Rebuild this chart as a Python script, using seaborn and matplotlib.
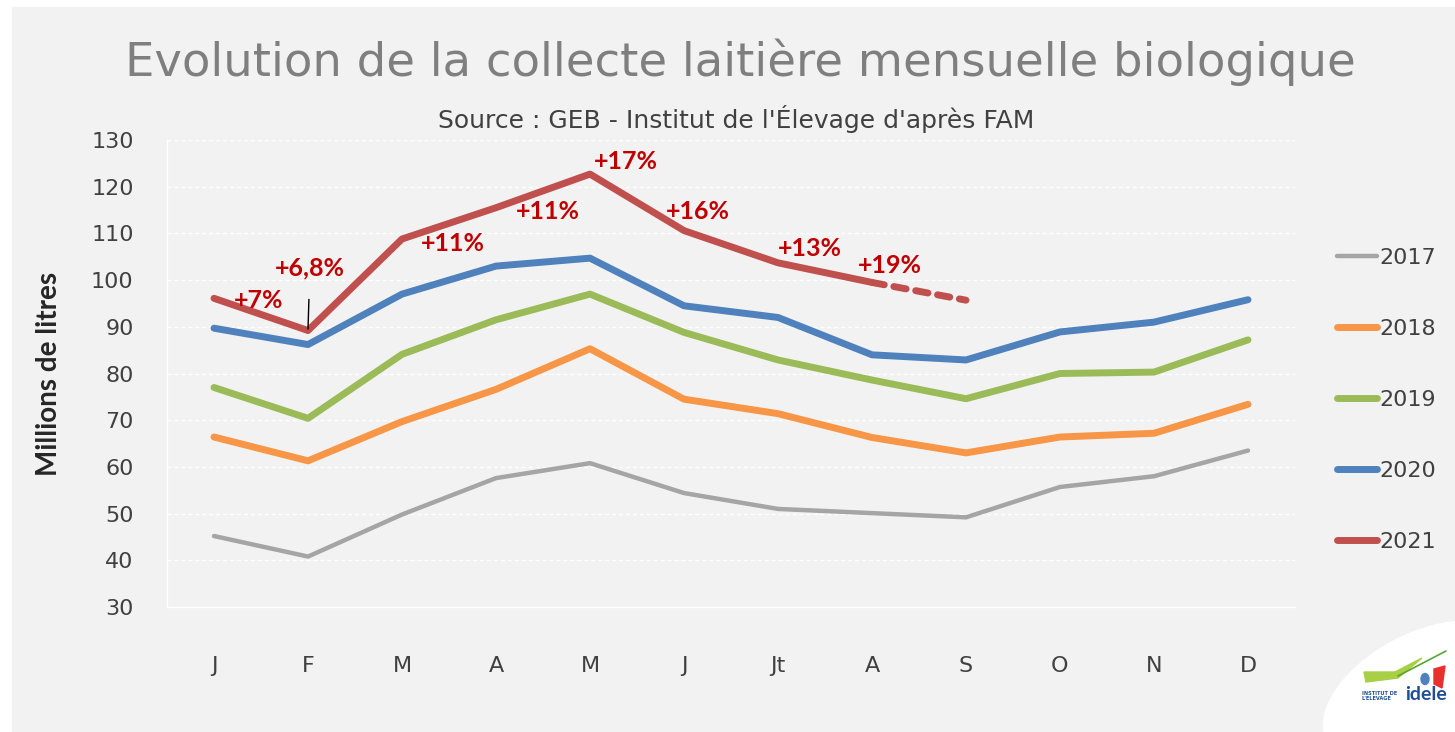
import numpy as np
import pandas as pd
import matplotlib
matplotlib.use("Agg")
import matplotlib.pyplot as plt
from matplotlib.patches import Ellipse, Rectangle, Polygon
from matplotlib.lines import Line2D
from matplotlib.transforms import IdentityTransform
import seaborn as sns

sns.set_style("white")
plt.rcParams["font.family"] = ["DejaVu Sans"]

# ---------------------------------------------------
# Data (millions de litres)
# ---------------------------------------------------
months = ["J", "F", "M", "A", "M", "J", "Jt", "A", "S", "O", "N", "D"]
years = ["2017", "2018", "2019", "2020", "2021"]

v2017 = [45.2, 40.8, 49.8, 57.6, 60.8, 54.4, 51.0, 50.1, 49.2, 55.7, 58.0, 63.5]
v2018 = [66.4, 61.3, 69.7, 76.6, 85.3, 74.5, 71.4, 66.3, 63.0, 66.4, 67.2, 73.4]
v2019 = [77.0, 70.4, 84.1, 91.5, 97.0, 88.8, 82.9, 78.6, 74.6, 80.0, 80.3, 87.2]
v2020 = [89.7, 86.2, 97.0, 103.0, 104.7, 94.5, 92.0, 84.0, 82.9, 88.9, 91.0, 95.8]
v2021 = [96.1, 89.2, 108.8, 115.5, 122.7, 110.6, 103.7, 99.5, 95.7]
n_final_2021 = 8  # Jan-Aug definitive, Sept estimated (dashed)

# year-on-year growth labels for 2021
growth_labels = ["+7%", "+6,8%", "+11%", "+11%", "+17%", "+16%", "+13%", "+19%"]
label_pos = [(0.47, 95.7), (1.02, 102.6), (2.54, 107.9), (3.55, 114.6),
             (4.38, 125.3), (5.15, 114.6), (6.34, 106.7), (7.19, 103.2)]

colors = {"2017": "#a5a5a5", "2018": "#f79646", "2019": "#9bbb59",
          "2020": "#4f81bd", "2021": "#c0504d"}
widths = {"2017": 3.2, "2018": 5, "2019": 5, "2020": 5, "2021": 5}

series = {"2017": v2017, "2018": v2018, "2019": v2019, "2020": v2020}

# ---------------------------------------------------
# Figure
# ---------------------------------------------------
W, H = 1455, 732
fig = plt.figure(figsize=(W / 100, H / 100), dpi=100, facecolor="white")
bg = "#f2f2f2"
fig.patches.append(Rectangle((12 / W, 0), 1, 1 - 7 / H, transform=fig.transFigure,
                             color=bg, zorder=-10))
# white leaf behind the logo (pixel coords)
px = IdentityTransform()
fig.patches.append(Ellipse((1420, 40), 210, 115, angle=28, transform=px,
                           color="white", zorder=-5))

ax = fig.add_axes([167 / W, (H - 607) / H, 1128 / W, 467 / H])
ax.set_facecolor(bg)

x = np.arange(len(months))
for yr, vals in series.items():
    sns.lineplot(x=x, y=vals, ax=ax, color=colors[yr], lw=widths[yr],
                 solid_capstyle="round", solid_joinstyle="round", label=yr)

x21 = x[:len(v2021)]
sns.lineplot(x=x21[:n_final_2021], y=v2021[:n_final_2021], ax=ax, color=colors["2021"],
             lw=widths["2021"], solid_capstyle="round", solid_joinstyle="round", label="2021")
ax.plot(x21[n_final_2021 - 1:], v2021[n_final_2021 - 1:], color=colors["2021"],
        lw=widths["2021"], ls=(0, (1.8, 1.4)), dash_capstyle="round")

for i, (txt, pos) in enumerate(zip(growth_labels, label_pos)):
    if txt == "+6,8%":
        ax.annotate(txt, xy=(x[i], v2021[i] + 0.3), xytext=pos, ha="center", va="center",
                    fontsize=18, fontweight="bold", color="#c00000", family="Lato",
                    arrowprops=dict(arrowstyle="-", color="black", lw=1,
                                    shrinkA=12, shrinkB=0))
    else:
        ax.text(pos[0], pos[1], txt, ha="center", va="center", fontsize=18,
                fontweight="bold", color="#c00000", family="Lato")

# axes styling
ax.set_xlim(-0.5, 11.5)
ax.set_ylim(30, 130)
ax.set_yticks(range(30, 131, 10))
ax.set_xticks(x)
ax.set_xticklabels(months)
ax.set_xticks(np.arange(-0.5, 12, 1), minor=True)
ax.tick_params(axis="x", which="major", length=0, pad=35, labelsize=16, labelcolor="#404040")
ax.tick_params(axis="x", which="minor", length=6, color="white", width=1)
ax.tick_params(axis="y", length=0, pad=24, labelsize=16, labelcolor="#404040")
ax.grid(axis="y", color="white", lw=1, ls=(0, (3, 2)))
ax.grid(axis="x", visible=False)
for s in ["top", "right"]:
    ax.spines[s].set_visible(False)
for s in ["left", "bottom"]:
    ax.spines[s].set_color("white")
    ax.spines[s].set_linewidth(1)

ax.set_ylabel("Millions de litres", fontsize=20, fontweight="bold", color="#262626",
              family="Lato")
ax.yaxis.set_label_coords(-0.093, 0.5)
ax.set_xlabel("")

handles, labels = ax.get_legend_handles_labels()
leg = ax.legend(handles, labels, loc="center left",
                bbox_to_anchor=(1337 / W, (H - 400) / H), bbox_transform=fig.transFigure,
                frameon=False, fontsize=16, handlelength=1.8, handletextpad=0.1,
                labelspacing=2.3, borderpad=0, borderaxespad=0)
for t in leg.get_texts():
    t.set_color("#404040")

fig.text(740 / W, (H - 62) / H, "Evolution de la collecte laitière mensuelle biologique",
         ha="center", va="center", fontsize=33.5, color="#7f7f7f")
fig.text(736 / W, (H - 119) / H, "Source : GEB - Institut de l'Élevage d'après FAM",
         ha="center", va="center", fontsize=18, color="#404040")

# logo
fig.patches.append(Polygon([(1364, 60), (1395, 60), (1422, 74), (1398, 54), (1366, 50)],
                           closed=True, transform=px, color="#a8cf45"))
fig.lines.append(Line2D([1398, 1446], [56, 81], transform=px, color="#5aa532", lw=1.2))
fig.patches.append(Ellipse((1425, 53), 8, 11, transform=px, color="#4f81bd"))
fig.patches.append(Polygon([(1434, 63), (1445, 66), (1442, 44), (1434, 48)],
                           closed=True, transform=px, color="#e8302d"))
fig.text(1362 / W, 36 / H, "INSTITUT DE\nL'ELEVAGE", ha="left", va="center",
         fontsize=3.6, fontweight="bold", color="#1f4e99", linespacing=1.1)
fig.text(1405 / W, 38 / H, "idele", ha="left", va="center", fontsize=14,
         fontweight="bold", color="#1f4e99", family="Lato")

fig.savefig("out.png", dpi=100, facecolor=fig.get_facecolor())
